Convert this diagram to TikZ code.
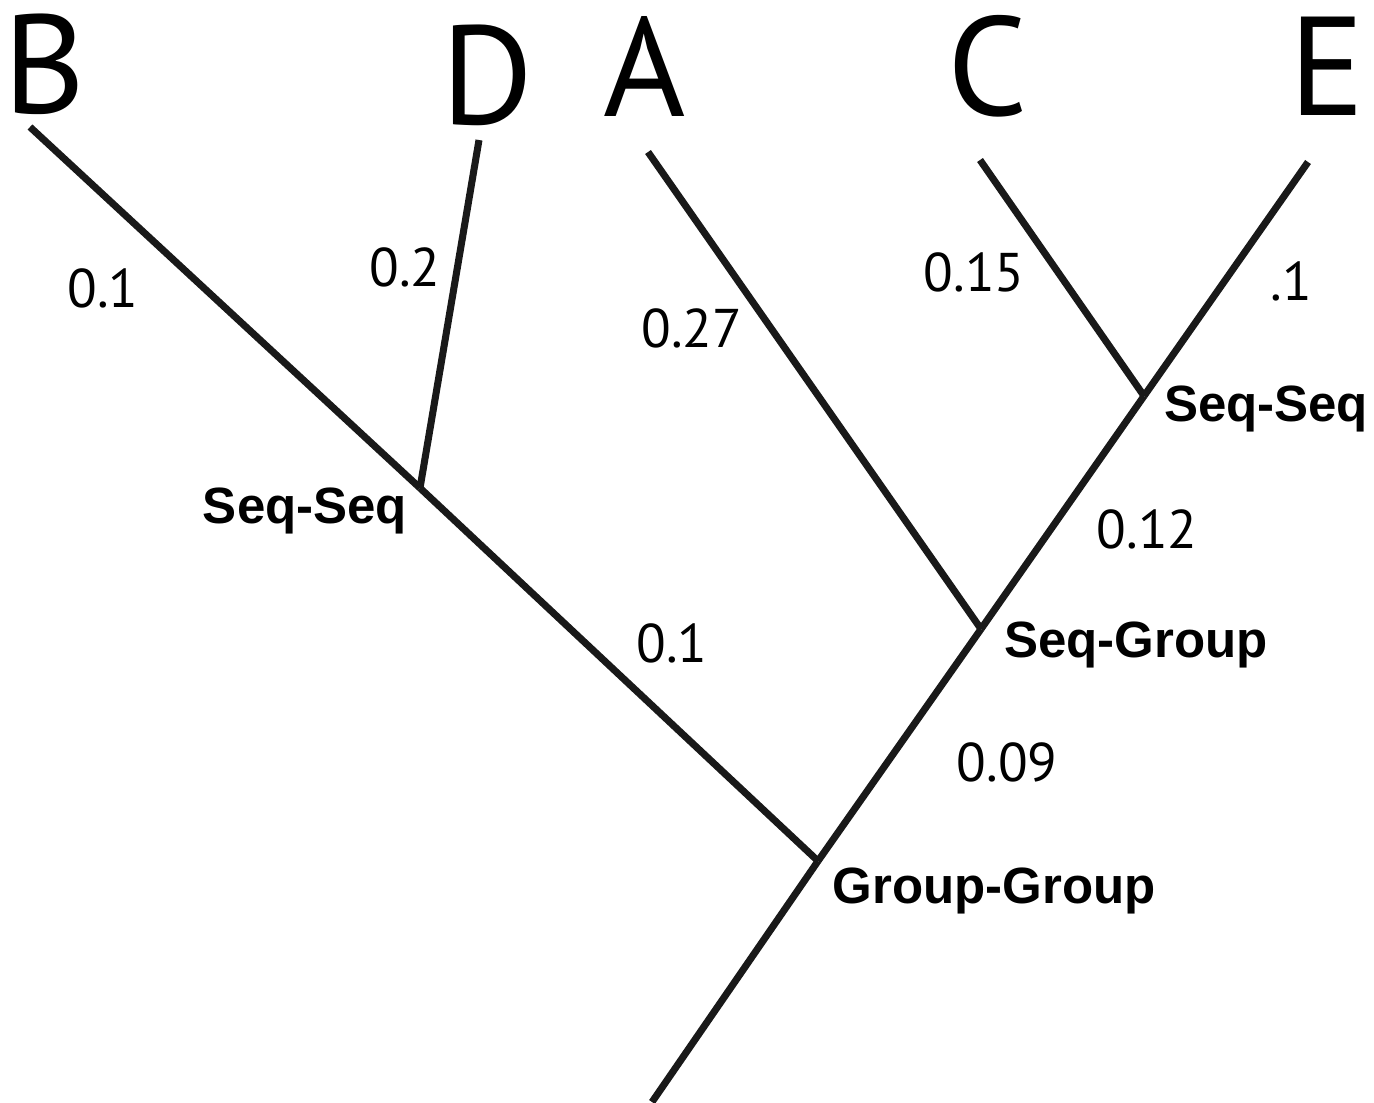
\documentclass[tikz,border=0pt]{standalone}
\usepackage{fontspec}
\setmainfont{PT Sans}
\newfontfamily\labelfont{Liberation Sans}
\usetikzlibrary{positioning}

\begin{document}
\begin{tikzpicture}[x=0.01cm, y=-0.01cm]
	\tikzstyle{every node} = [inner sep = 0pt]
	\tikzstyle{branch} = [line width = 2pt, draw = black!90]
	\tikzstyle{taxon} = [font = \fontsize{40}{40}\selectfont]
	\tikzstyle{len} = [font = \fontsize{15.5}{16}\selectfont]
	\tikzstyle{kind} = [font = \labelfont\bfseries\fontsize{14.5}{15}\selectfont]
	\useasboundingbox (0,0) rectangle (1374,1102);
% leaves
\node[taxon] (B) at (45, 64) {B};
\node[taxon] (D) at (487, 75) {D};
\node[taxon] (A) at (645, 66) {A};
\node[taxon] (C) at (988, 66) {C};
\node[taxon] (E) at (1327, 66) {E};
% branch ends and junctions
\coordinate (tB) at (30, 127);
\coordinate (tD) at (479, 140);
\coordinate (tA) at (648, 152);
\coordinate (tC) at (980, 160);
\coordinate (tE) at (1308, 162);
\coordinate (j1) at (420, 488);
\coordinate (j2) at (1144, 396);
\coordinate (j3) at (981, 629);
\coordinate (j4) at (818, 861);
\coordinate (root) at (652, 1102);
	\path[branch] (tB) -- (j1);
	\path[branch] (j1) -- (j4);
	\path[branch] (tD) -- (j1);
	\path[branch] (tA) -- (j3);
	\path[branch] (tC) -- (j2);
	\path[branch] (tE) -- (j2);
	\path[branch] (j2) -- (j3);
	\path[branch] (j3) -- (j4);
	\path[branch] (j4) -- (root);
% branch lengths
\node[len] (l1) at (103, 288) {0.1};
\node[len] (l2) at (405, 267) {0.2};
\node[len] (l3) at (692, 328) {0.27};
\node[len] (l4) at (974, 272) {0.15};
\node[len] (l5) at (1291, 281) {.1};
\node[len] (l6) at (1147, 529) {0.12};
\node[len] (l7) at (672, 643) {0.1};
\node[len] (l8) at (1007, 762) {0.09};
% junction kinds
\node[kind] (k1) at (305, 511) {Seq-Seq};
\node[kind] (k2) at (1266, 409) {Seq-Seq};
\node[kind] (k3) at (1136, 645) {Seq-Group};
\node[kind] (k4) at (994, 891) {Group-Group};
	\end{tikzpicture}
\end{document}
